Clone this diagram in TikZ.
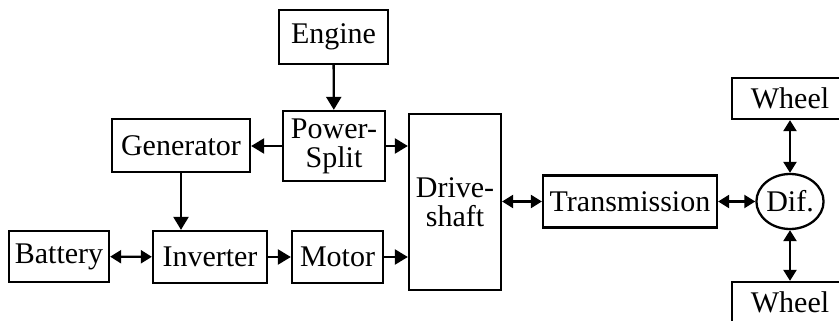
\documentclass[tikz,border=0pt]{standalone}
\usepackage{fontspec}
\setmainfont{Liberation Serif}
\usetikzlibrary{arrows.meta,shapes.geometric}
\begin{document}
\begin{tikzpicture}[x=1pt,y=-1pt,
  blk/.style={draw,line width=2.3pt,inner sep=0pt,align=center,
    font=\fontsize{30}{29}\selectfont},
  con/.style={line width=2.3pt,-{Triangle[length=13pt,width=15pt]}},
  bicon/.style={line width=2.3pt,{Triangle[length=11pt,width=13pt]}-{Triangle[length=11pt,width=13pt]}}]
\clip (0,0) rectangle (839,321);
\useasboundingbox (0,0) rectangle (839,321);
\node[blk,minimum width=109pt,minimum height=54pt] (eng) at (333.5,37) {Engine};
\node[blk,minimum width=102pt,minimum height=70pt] (ps) at (334,146) {Power-\\Split};
\node[blk,minimum width=138pt,minimum height=53pt] (gen) at (181,145.5) {Generator};
\node[blk,minimum width=100pt,minimum height=51pt] (bat) at (59,256.5) {Battery};
\node[blk,minimum width=114pt,minimum height=52pt] (inv) at (210,257) {Inverter};
\node[blk,minimum width=91pt,minimum height=52pt] (mot) at (337.5,257) {Motor};
\node[blk,minimum width=92pt,minimum height=176pt] (ds) at (455,202) {Drive-\\shaft};
\node[blk,minimum width=174pt,minimum height=52pt] (tr) at (630,201.5) {Transmission};
\node[blk,ellipse,minimum width=66pt,minimum height=55pt] (dif) at (790,201.5) {Dif.};
\node[blk,minimum width=116pt,minimum height=41pt] (w1) at (790,98.5) {Wheel};
\node[blk,minimum width=116pt,minimum height=41pt] (w2) at (790,302.5) {Wheel};
\draw[con] (eng) -- (ps);
\draw[con] (ps.west) -- (gen.east |- ps.west);
\draw[con] (ps.east) -- (ps.east -| ds.west);
\draw[con] (gen.south) -- (gen.south |- inv.north);
\draw[bicon] (bat) -- (inv);
\draw[con] (inv) -- (mot);
\draw[con] (mot.east) -- (mot.east -| ds.west);
\draw[bicon] (ds.east |- tr.west) -- (tr.west);
\draw[bicon] (tr.east) -- (dif.west);
\draw[bicon] (w1) -- (dif);
\draw[bicon] (dif) -- (w2);
\end{tikzpicture}
\end{document}
